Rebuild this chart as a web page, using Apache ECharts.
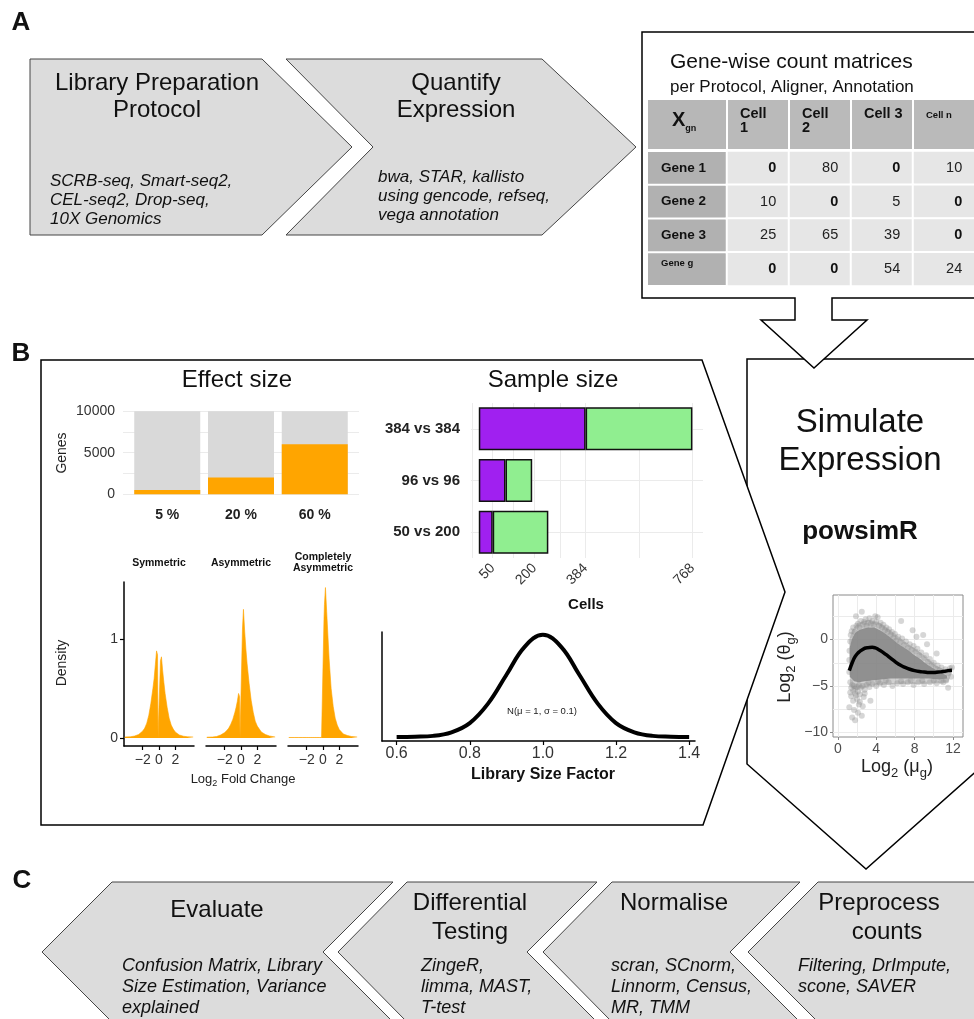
<!DOCTYPE html>
<html><head><meta charset="utf-8">
<script src="https://cdn.jsdelivr.net/npm/echarts@6.0.0/dist/echarts.min.js"></script>
<style>html,body{margin:0;padding:0;background:#fff}#c{width:974px;height:1019px}</style>
</head><body><div id="c"></div>
<script>
// ---------------- DATA ----------------
const effectCats = ['5 %', '20 %', '60 %'];
const effectPos = [1, 2, 3];
const effectTotal = [10000, 10000, 10000];
const effectDE = [500, 2000, 6000];
const effectYTicks = [0, 5000, 10000];
const effectYGrid = [0, 2500, 5000, 7500, 10000];

const densTitles = ['Symmetric', 'Asymmetric', 'Completely\nAsymmetric'];
const densX = [-4.2,-3.5,-3,-2.5,-2,-1.75,-1.5,-1.25,-1,-0.75,-0.6,-0.45,-0.3,-0.18,-0.12,0.12,0.18,0.3,0.45,0.6,0.75,1,1.25,1.5,1.75,2,2.5,3,3.5,4.2];
const densSym = [0.01,0.012,0.02,0.035,0.07,0.1,0.15,0.23,0.35,0.5,0.6,0.74,0.88,0.84,0,0,0.78,0.82,0.68,0.56,0.45,0.31,0.2,0.13,0.09,0.06,0.03,0.018,0.012,0.01];
const densAsym = [0.008,0.01,0.015,0.03,0.055,0.075,0.1,0.14,0.19,0.26,0.31,0.37,0.45,0.42,0,0,1.1,1.3,1.08,0.9,0.75,0.55,0.38,0.26,0.17,0.12,0.06,0.035,0.02,0.01];
const densComp = [0.005,0.005,0.005,0.005,0.005,0.005,0.005,0.005,0.005,0.005,0.005,0.005,0.005,0.005,0.005,1.2,1.35,1.52,1.28,1.04,0.8,0.5,0.32,0.2,0.13,0.085,0.04,0.025,0.015,0.01];
const densXTicks = [-2, 0, 2];
const densYTicks = [0, 1];

const sampleCats = ['384 vs 384', '96 vs 96', '50 vs 200'];
const sampleGroup1 = [384, 96, 50];
const sampleGroup2 = [384, 96, 200];
const sampleXTicks = [50, 200, 384, 768];
const sampleXGrid = [-25, 50, 125, 200, 292, 384, 576, 768];

const libX = [0.6,0.65,0.7,0.75,0.8,0.85,0.9,0.95,1.0,1.05,1.1,1.15,1.2,1.25,1.3,1.35,1.4];
const libY = [0.0,0.01,0.04,0.18,0.54,1.3,2.42,3.52,3.99,3.52,2.42,1.3,0.54,0.18,0.04,0.01,0.0];
const libXTicks = [0.6, 0.8, 1.0, 1.2, 1.4];

const scatterHalo = [[1.2,0.0],[1.5,1.0],[2.0,1.7],[2.6,2.0],[3.4,2.1],[4.2,1.9],[4.8,1.5],[5.5,1.0],[6.2,0.4],[7.0,-0.2],[7.8,-0.8],[8.6,-1.4],[9.4,-2.1],[10.2,-2.8],[11.0,-3.2],[11.9,-3.0],[11.9,-3.6],[11.5,-4.6],[10.5,-4.7],[9.0,-4.8],[7.5,-4.8],[6.0,-4.8],[4.5,-4.9],[3.2,-5.0],[2.4,-5.3],[1.8,-5.4],[1.3,-5.0],[1.2,-3.0]];
const scatterCore = [[1.25,-0.8],[1.5,0.1],[1.8,0.7],[2.2,1.0],[2.7,1.2],[3.2,1.3],[3.8,1.3],[4.4,1.0],[5.0,0.6],[5.6,0.1],[6.2,-0.4],[6.8,-0.8],[7.4,-1.2],[8.0,-1.7],[8.6,-2.1],[9.2,-2.6],[9.8,-3.0],[10.4,-3.4],[11.0,-3.7],[11.4,-3.9],[11.4,-4.2],[10.5,-4.3],[9.5,-4.2],[8.5,-4.2],[7.5,-4.2],[6.5,-4.2],[5.5,-4.2],[4.5,-4.3],[3.5,-4.4],[2.8,-4.5],[2.2,-4.6],[1.7,-4.5],[1.25,-4.0]];
const scatterPts = [
[1.3,-0.2],[1.35,0.5],[1.45,0.9],[1.6,1.3],[1.75,0.8],[1.9,2.5],[1.95,1.5],[2.1,1.7],[2.25,1.3],[2.4,2.0],[2.5,3.0],[2.6,1.6],[2.75,1.9],[2.9,2.2],[3.0,1.5],[3.15,1.8],[3.3,2.3],[3.45,1.7],[3.6,2.0],[3.75,1.6],[3.9,2.5],[4.0,1.9],[4.15,2.4],[4.3,1.5],[4.45,1.8],[4.6,1.3],[4.75,1.6],[4.9,1.0],[5.05,1.3],[5.2,0.8],[5.35,1.1],[5.5,0.5],[5.65,0.8],[5.8,0.2],[5.95,0.6],[6.1,-0.1],[6.3,0.3],[6.5,-0.3],[6.6,2.0],[6.7,0.1],[6.9,-0.6],[7.1,-0.2],[7.3,-0.9],[7.5,-0.5],[7.7,-1.1],[7.8,1.0],[7.9,-0.7],[8.1,-1.3],[8.3,-1.0],[8.5,-1.7],[8.7,-1.4],[8.9,0.5],[9.0,-2.0],[9.2,-1.7],[9.4,-2.4],[9.6,-2.1],[9.8,-2.7],[10.0,-2.5],[10.2,-3.1],[10.4,-2.8],[10.6,-3.3],[10.8,-3.0],[11.0,-3.5],[11.2,-3.2],[11.5,-3.6],[11.7,-3.1],[11.9,-3.0],[10.3,-1.5],[9.3,-0.5],[8.2,0.3],
[1.2,-3.5],[1.2,-2.2],[1.22,-1.2],[1.3,-4.6],[1.4,-5.2],[1.5,-4.9],[1.6,-5.5],[1.7,-5.0],[1.8,-5.3],[1.9,-6.0],[2.0,-5.1],[2.1,-5.6],[2.2,-4.9],[2.3,-5.9],[2.4,-5.2],[2.6,-5.0],[2.8,-5.4],[3.0,-4.9],[3.3,-5.1],[3.6,-4.8],[4.0,-5.0],[4.4,-4.7],[4.8,-4.9],[5.3,-4.6],[5.7,-5.0],[6.2,-4.7],[6.6,-4.5],[6.8,-4.8],[7.3,-4.6],[7.6,-4.4],[7.9,-4.9],[8.4,-4.6],[8.8,-4.4],[9.0,-4.8],[9.6,-4.6],[10.0,-4.4],[10.3,-4.7],[10.8,-4.5],[11.0,-4.6],[11.3,-4.4],[11.5,-5.2],[11.8,-4.0],[4.2,-4.5],[5.0,-4.4],[3.2,-4.6],
[1.2,-7.3],[1.5,-8.4],[1.8,-8.7],[2.1,-7.9],[2.5,-8.2],[2.0,-6.4],[2.3,-6.7],[1.8,-5.8],[1.4,-6.1],[3.4,-6.6],[2.8,-5.8],[2.6,-7.2],[1.6,-6.6],[2.2,-7.0],[1.3,-5.7],[2.7,-6.2],[1.7,-7.6]
];
const fitX = [1.2,1.5,1.8,2.1,2.4,2.7,3.0,3.3,3.6,3.9,4.2,4.6,5.0,5.5,6.0,6.5,7.0,7.5,8.0,8.5,9.0,9.5,10.0,10.5,11.0,11.5,11.9];
const fitY = [-3.35,-2.5,-1.85,-1.45,-1.2,-1.0,-0.9,-0.85,-0.84,-0.9,-1.05,-1.3,-1.6,-2.0,-2.4,-2.75,-3.0,-3.2,-3.35,-3.45,-3.5,-3.55,-3.55,-3.5,-3.45,-3.35,-3.3];
const scatXTicks = [0, 4, 8, 12];
const scatYTicks = [-10, -5, 0];
const scatXGrid = [0, 2, 4, 6, 8, 10, 12];
const scatYGrid = [-10, -7.5, -5, -2.5, 0, 2.5];

const tableCols = ['Cell 1', 'Cell 2', 'Cell 3', 'Cell n'];
const tableColHeads = ['Cell\n1', 'Cell\n2', 'Cell 3', 'Cell n'];
const tableRows = ['Gene 1', 'Gene 2', 'Gene 3', 'Gene g'];
const tableValues = [[0, 80, 0, 10], [10, 0, 5, 0], [25, 65, 39, 0], [0, 0, 54, 24]];

// ---------------- LAYOUT / STYLE ----------------
const FF = "'Liberation Sans', Arial, Helvetica, sans-serif";
const minus = v => (v < 0 ? '\u2212' + Math.abs(v) : String(v));
const subRich = (fs, color) => ({
  m: {fontSize: fs, lineHeight: Math.round(fs * 1.45), fill: color, fontFamily: FF},
  s: {fontSize: Math.round(fs * 0.7), lineHeight: Math.round(fs * 0.7), verticalAlign: 'bottom', fill: color, fontFamily: FF}
});
function txt(x, y, text, fs, o) {
  o = o || {};
  const st = {text: text, fontSize: fs, fontFamily: FF, fontWeight: o.bold ? 'bold' : 'normal',
    fontStyle: o.italic ? 'italic' : 'normal', fill: o.color || '#111', align: o.align || 'center',
    verticalAlign: o.va || 'middle'};
  if (o.rich) st.rich = o.rich;
  if (o.lh) st.lineHeight = o.lh;
  return {type: 'text', x: x, y: y, rotation: o.rot || 0, z: 100, silent: true, style: st};
}
function poly(points, fill, stroke, lw, z) {
  return {type: 'polygon', z: z, silent: true, shape: {points: points},
    style: {fill: fill, stroke: stroke, lineWidth: lw, lineJoin: 'miter'}};
}
const G = [];
G.push(poly([[747,359],[990,359],[990,759],[866,869],[747,764]], '#fff', '#000', 1.5, -10));
G.push(poly([[41,360],[702,360],[785,592],[703,825],[41,825]], '#fff', '#000', 1.5, -9));
G.push(poly([[642,32],[990,32],[990,298],[832,298],[832,320],[867,320],[814,368],[761,320],[795,320],[795,298],[642,298]], '#fff', '#000', 1.5, -8));
const arrowFill = '#dcdcdc', arrowStroke = '#444';
G.push(poly([[30,59],[262,59],[352,147],[262,235],[30,235]], arrowFill, arrowStroke, 1, -10));
G.push(poly([[286,59],[542,59],[636,147],[542,235],[286,235],[373,147]], arrowFill, arrowStroke, 1, -10));
G.push(poly([[42,952],[112,882],[393,882],[323,952],[393,1022],[112,1022]], arrowFill, arrowStroke, 1, -10));
G.push(poly([[338,952],[407,882],[597,882],[527,952],[597,1022],[407,1022]], arrowFill, arrowStroke, 1, -10));
G.push(poly([[543,952],[612,882],[800,882],[730,952],[800,1022],[612,1022]], arrowFill, arrowStroke, 1, -10));
G.push(poly([[748,952],[818,882],[990,882],[990,1022],[818,1022]], arrowFill, arrowStroke, 1, -10));

G.push(txt(21, 23, 'A', 26, {bold: true}));
G.push(txt(21, 354, 'B', 26, {bold: true}));
G.push(txt(22, 881, 'C', 26, {bold: true}));

G.push(txt(157, 83, 'Library Preparation', 24));
G.push(txt(157, 110, 'Protocol', 24));
['SCRB-seq, Smart-seq2,', 'CEL-seq2, Drop-seq,', '10X Genomics'].forEach((t, i) => G.push(txt(50, 181 + i * 19, t, 17, {italic: true, align: 'left'})));
G.push(txt(456, 83, 'Quantify', 24));
G.push(txt(456, 110, 'Expression', 24));
['bwa, STAR, kallisto', 'using gencode, refseq,', 'vega annotation'].forEach((t, i) => G.push(txt(378, 177 + i * 19, t, 17, {italic: true, align: 'left'})));

G.push(txt(670, 62, 'Gene-wise count matrices', 21, {align: 'left'}));
G.push(txt(670, 87, 'per Protocol, Aligner, Annotation', 17, {align: 'left'}));
const TB = {left: 648, headW: 78, dataLeft: 727, colW: 62, top: 100, headH: 49, rowTop: 151, rowH: 33.75};
G.push({type: 'rect', z: -7, silent: true, shape: {x: TB.left, y: TB.top, width: TB.headW, height: TB.headH}, style: {fill: '#b7b7b7'}});
G.push(txt(672, 120, '{x|X}{s|gn}', 20, {align: 'left', rich: {
  x: {fontSize: 20, fontWeight: 'bold', lineHeight: 26, fill: '#111', fontFamily: FF},
  s: {fontSize: 9, fontWeight: 'bold', lineHeight: 9, verticalAlign: 'bottom', fill: '#111', fontFamily: FF}}}));
tableColHeads.forEach((h, j) => {
  const x0 = TB.dataLeft + j * TB.colW;
  G.push({type: 'rect', z: -7, silent: true, shape: {x: x0 + 1, y: TB.top, width: TB.colW - 2, height: TB.headH}, style: {fill: '#bababa'}});
  const small = h === 'Cell n';
  G.push(txt(x0 + 13, small ? 108 : 107, h, small ? 9.5 : 14.5, {bold: true, align: 'left', va: 'top', lh: 14}));
});
tableRows.forEach((r, i) => {
  const y0 = TB.rowTop + i * TB.rowH;
  G.push({type: 'rect', z: -7, silent: true, shape: {x: TB.left, y: y0 + 1, width: TB.headW, height: TB.rowH - 2}, style: {fill: '#b1b1b1'}});
  const small = r === 'Gene g';
  G.push(txt(661, small ? y0 + 11 : y0 + TB.rowH / 2, r, small ? 9.5 : 13.5, {bold: true, align: 'left'}));
});

G.push(txt(237, 380, 'Effect size', 24));
G.push(txt(553, 380, 'Sample size', 24));
G.push(txt(62, 453, 'Genes', 14, {rot: Math.PI / 2, color: '#222'}));
G.push(txt(62, 663, 'Density', 14, {rot: Math.PI / 2, color: '#222'}));
const densCenters = [159, 241, 323];
densTitles.forEach((t, i) => {
  const lines = t.split('\n');
  lines.forEach((l, k) => G.push(txt(densCenters[i], lines.length > 1 ? 557 + k * 11.5 : 563, l, 10.5, {bold: true})));
});
G.push(txt(243, 779, '{m|Log}{s|2}{m| Fold Change}', 13, {rich: subRich(13, '#222')}));
G.push(txt(586, 605, 'Cells', 15, {bold: true}));
G.push(txt(543, 775, 'Library Size Factor', 16, {bold: true}));
G.push(txt(542, 711, 'N(\u03bc = 1, \u03c3 = 0.1)', 9.5, {color: '#222'}));
G.push(txt(860, 423, 'Simulate', 33));
G.push(txt(860, 461, 'Expression', 33));
G.push(txt(860, 532, 'powsimR', 26, {bold: true}));
G.push(txt(785, 667, '{m|Log}{s|2}{m| (\u03b8}{s|g}{m|)}', 18, {rot: Math.PI / 2, rich: subRich(18, '#222')}));
G.push(txt(897, 767, '{m|Log}{s|2}{m| (\u03bc}{s|g}{m|)}', 18, {rich: subRich(18, '#222')}));

G.push(txt(217, 910, 'Evaluate', 24));
G.push(txt(470, 903, 'Differential', 24));
G.push(txt(470, 932, 'Testing', 24));
G.push(txt(674, 903, 'Normalise', 24));
G.push(txt(879, 903, 'Preprocess', 24));
G.push(txt(887, 932, 'counts', 24));
const cLines = [
  [122, ['Confusion Matrix, Library', 'Size Estimation, Variance', 'explained']],
  [421, ['ZingeR,', 'limma, MAST,', 'T-test']],
  [611, ['scran, SCnorm,', 'Linnorm, Census,', 'MR, TMM']],
  [798, ['Filtering, DrImpute,', 'scone, SAVER']]
];
cLines.forEach(([x, ls]) => ls.forEach((l, i) => G.push(txt(x, 966 + i * 21, l, 18, {italic: true, align: 'left'}))));

// ---------------- CHART ----------------
const gridLine = {show: true, lineStyle: {color: '#ebebeb', width: 1}};
const blackLine = {show: true, onZero: false, lineStyle: {color: '#000', width: 1.5}};
const noAxis = {axisLine: {show: false, onZero: false}, axisTick: {show: false}, axisLabel: {show: false}, splitLine: {show: false}};
const tickLbl = (vals, extra) => Object.assign({customValues: vals, fontSize: 14, color: '#333', fontFamily: FF}, extra || {});

const grids = [
  {left: 123, top: 407, width: 236, height: 91.3},
  {left: 124, top: 582, width: 70, height: 164},
  {left: 206, top: 582, width: 70, height: 164},
  {left: 288, top: 582, width: 70, height: 164},
  {left: 471, top: 403, width: 232, height: 155},
  {left: 382, top: 632, width: 313, height: 109},
  {left: 833, top: 595, width: 130, height: 142, show: true, borderColor: '#8a8a8a', borderWidth: 1, backgroundColor: 'transparent'},
  {left: 727, top: 151, width: 248, height: 135}
].map(g => Object.assign({containLabel: false, outerBoundsMode: 'none'}, g));

const xAxes = [
  {gridIndex: 0, type: 'value', min: 0.4, max: 3.6, axisLine: {show: false, onZero: false}, axisTick: {show: false, customValues: effectPos},
    axisLabel: tickLbl(effectPos, {formatter: v => effectCats[effectPos.indexOf(v)], fontWeight: 'bold', color: '#222', margin: 10}), splitLine: {show: false}},
];
[1, 2, 3].forEach(i => xAxes.push({gridIndex: i, type: 'value', min: -4.3, max: 4.3, axisLine: blackLine,
  axisTick: {show: true, customValues: densXTicks, length: 4, lineStyle: {color: '#000', width: 1.2}},
  axisLabel: tickLbl(densXTicks, {formatter: minus, margin: 7}), splitLine: {show: false}}));
xAxes.push({gridIndex: 4, type: 'value', min: -28, max: 806, axisLine: {show: false, onZero: false}, axisTick: {show: false, customValues: sampleXGrid},
  axisLabel: tickLbl(sampleXTicks, {rotate: 45, margin: 8}), splitLine: gridLine});
xAxes.push({gridIndex: 5, type: 'value', min: 0.56, max: 1.416, axisLine: blackLine,
  axisTick: {show: true, customValues: libXTicks, length: 4, lineStyle: {color: '#000', width: 1.2}},
  axisLabel: tickLbl(libXTicks, {formatter: v => v.toFixed(1), fontSize: 16, margin: 5}), splitLine: {show: false}});
xAxes.push({gridIndex: 6, type: 'value', min: -0.5, max: 13.05, axisLine: {show: false, onZero: false},
  axisTick: {show: true, customValues: scatXTicks, length: 3, lineStyle: {color: '#8a8a8a'}},
  axisLabel: tickLbl(scatXTicks, {color: '#4d4d4d', margin: 5}), splitLine: {show: false}});
xAxes.push(Object.assign({gridIndex: 6, type: 'value', position: 'top', min: -0.5, max: 13.05}, noAxis,
  {axisTick: {show: false, customValues: scatXGrid}, splitLine: gridLine}));
xAxes.push({gridIndex: 7, type: 'category', data: tableCols, show: false});

const yAxes = [
  {gridIndex: 0, type: 'value', min: -500, max: 10500, axisLine: {show: false, onZero: false}, axisTick: {show: false, customValues: effectYGrid},
    axisLabel: tickLbl(effectYTicks, {margin: 8, formatter: v => String(v)}), splitLine: gridLine},
  {gridIndex: 1, type: 'value', min: -0.081, max: 1.576, axisLine: blackLine,
    axisTick: {show: true, customValues: densYTicks, length: 4, lineStyle: {color: '#000', width: 1.2}},
    axisLabel: tickLbl(densYTicks, {margin: 6}), splitLine: {show: false}},
  Object.assign({gridIndex: 2, type: 'value', min: -0.081, max: 1.576}, noAxis),
  Object.assign({gridIndex: 3, type: 'value', min: -0.081, max: 1.576}, noAxis),
  {gridIndex: 4, type: 'category', data: sampleCats, inverse: true, axisLine: {show: false}, axisTick: {show: false},
    axisLabel: {fontSize: 15, fontWeight: 'bold', color: '#222', fontFamily: FF, margin: 11}, splitLine: {show: false}},
  Object.assign({gridIndex: 4, type: 'value', min: 0.5, max: 3.5, position: 'right'}, noAxis,
    {axisTick: {show: false, customValues: sampleCats.map((c, i) => i + 1)}, splitLine: gridLine}),
  Object.assign({gridIndex: 5, type: 'value', min: -0.16, max: 4.1}, noAxis, {axisLine: blackLine}),
  {gridIndex: 6, type: 'value', min: -10.5, max: 4.8, axisLine: {show: false, onZero: false},
    axisTick: {show: true, customValues: scatYTicks, length: 3, lineStyle: {color: '#8a8a8a'}},
    axisLabel: tickLbl(scatYTicks, {formatter: minus, color: '#4d4d4d', margin: 5}), splitLine: {show: false}},
  Object.assign({gridIndex: 6, type: 'value', min: -10.5, max: 4.8, position: 'right'}, noAxis,
    {axisTick: {show: false, customValues: scatYGrid}, splitLine: gridLine}),
  {gridIndex: 7, type: 'category', data: tableRows, inverse: true, show: false}
];

const series = [
  {type: 'bar', xAxisIndex: 0, yAxisIndex: 0, barWidth: 66, barGap: '-100%', itemStyle: {color: '#d9d9d9'},
    data: effectPos.map((p, i) => [p, effectTotal[i]])},
  {type: 'bar', xAxisIndex: 0, yAxisIndex: 0, barWidth: 66, barGap: '-100%', itemStyle: {color: '#FFA500'},
    data: effectPos.map((p, i) => [p, effectDE[i]])}
];
[densSym, densAsym, densComp].forEach((arr, k) => series.push({
  type: 'line', xAxisIndex: k + 1, yAxisIndex: k + 1, symbol: 'none', smooth: false,
  lineStyle: {color: '#FFA500', width: 0.6}, areaStyle: {color: '#FFA500', opacity: 1},
  data: densX.map((x, i) => [x, arr[i]])
}));
series.push({type: 'bar', xAxisIndex: 4, yAxisIndex: 4, stack: 'ss', barWidth: 43,
  itemStyle: {color: '#A020F0', borderColor: '#111', borderWidth: 1.5}, data: sampleGroup1});
series.push({type: 'bar', xAxisIndex: 4, yAxisIndex: 4, stack: 'ss', barWidth: 43,
  itemStyle: {color: '#90EE90', borderColor: '#111', borderWidth: 1.5}, data: sampleGroup2});
series.push({type: 'line', xAxisIndex: 5, yAxisIndex: 6, symbol: 'none', smooth: 0.4,
  lineStyle: {color: '#000', width: 4, cap: 'butt'}, data: libX.map((x, i) => [x, libY[i]])});
function polySeries(pts, fill) {
  return {type: 'custom', xAxisIndex: 6, yAxisIndex: 7, data: pts, encode: {x: 0, y: 1}, silent: true,
    renderItem: function (params, api) {
      if (params.dataIndex !== 0) return null;
      return {type: 'polygon', shape: {points: pts.map(p => api.coord(p))}, style: {fill: fill}};
    }};
}
series.push(polySeries(scatterHalo, 'rgba(150,150,150,0.45)'));
series.push(polySeries(scatterCore, 'rgba(128,128,128,0.8)'));
series.push({type: 'scatter', xAxisIndex: 6, yAxisIndex: 7, symbolSize: 6, silent: true,
  itemStyle: {color: 'rgba(140,140,140,0.45)'}, data: scatterPts});
series.push({type: 'line', xAxisIndex: 6, yAxisIndex: 7, symbol: 'none', smooth: 0.5, silent: true,
  lineStyle: {color: '#000', width: 3.5}, data: fitX.map((x, i) => [x, fitY[i]])});
const heatData = [];
tableValues.forEach((row, i) => row.forEach((v, j) => heatData.push([j, i, v])));
series.push({type: 'heatmap', xAxisIndex: 8, yAxisIndex: 9, data: heatData, silent: true,
  itemStyle: {color: '#e6e6e6', borderColor: '#fff', borderWidth: 2},
  label: {show: true, position: 'insideRight', distance: 14,
    formatter: p => (p.value[2] === 0 ? '{b|0}' : '{n|' + p.value[2] + '}'),
    rich: {b: {fontWeight: 'bold', fontSize: 14.5, color: '#111', fontFamily: FF},
           n: {fontSize: 14.5, color: '#222', fontFamily: FF}}}});

const chart = echarts.init(document.getElementById('c'), null, {renderer: 'canvas'});
chart.setOption({
  animation: false,
  backgroundColor: '#fff',
  textStyle: {fontFamily: FF},
  grid: grids, xAxis: xAxes, yAxis: yAxes, series: series,
  graphic: {elements: G}
});
</script></body></html>
